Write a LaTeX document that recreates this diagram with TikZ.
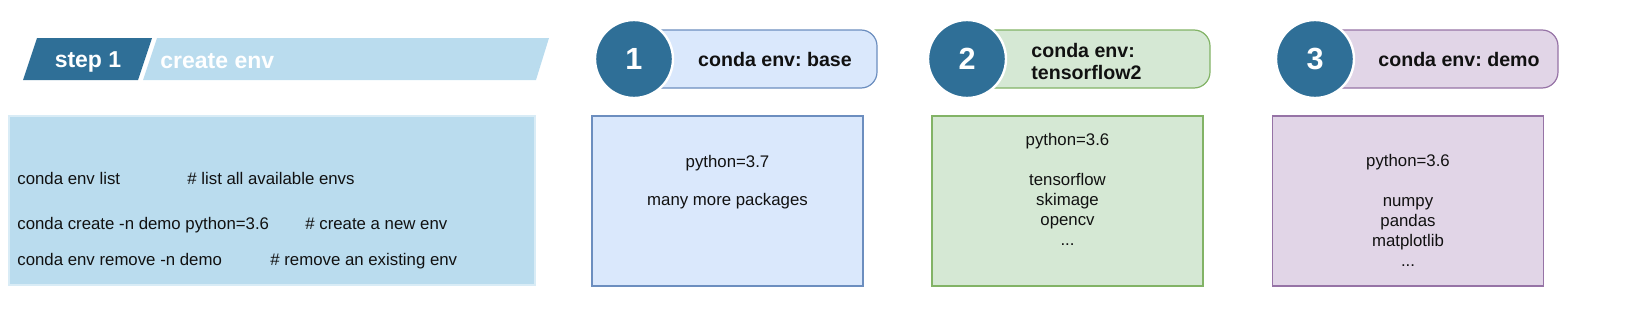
\documentclass[tikz,border=0pt]{standalone}
\usepackage{fontspec}
\setmainfont{Liberation Sans}
\frenchspacing
\definecolor{darkb}{HTML}{2F6F97}
\definecolor{lightb}{HTML}{BADCEE}
\definecolor{bluef}{HTML}{DAE8FC}
\definecolor{blued}{HTML}{6C8EBF}
\definecolor{greenf}{HTML}{D5E8D4}
\definecolor{greend}{HTML}{82B366}
\definecolor{purpf}{HTML}{E1D5E7}
\definecolor{purpd}{HTML}{9673A6}
\definecolor{txt}{HTML}{111111}
\begin{document}
\begin{tikzpicture}[x=0.5pt,y=-0.5pt,
  normtxt/.style={font=\fontsize{8.4pt}{10pt}\selectfont, text=txt, inner sep=0pt},
  titletxt/.style={font=\fontsize{9.8pt}{11pt}\selectfont\bfseries, text=txt, inner sep=0pt},
  envbox/.style={rectangle, minimum width=135.5pt, minimum height=85pt, line width=0.6pt, inner sep=0pt},
  pill/.style={rectangle, rounded corners=8pt, minimum width=121pt, minimum height=29pt, line width=0.6pt, inner sep=0pt},
  numcirc/.style={circle, fill=darkb, draw=white, line width=1.2pt, minimum size=39pt, inner sep=0pt,
    text=white, font=\fontsize{15.3pt}{18pt}\selectfont\bfseries},
  cmdline/.style={normtxt, anchor=west}
]
\useasboundingbox (0,0) rectangle (1634,332);
% header parallelograms
\fill[darkb] (23,80) -- (37,38) -- (152,38) -- (138,80) -- cycle;
\fill[lightb] (143,80) -- (157,38) -- (549,38) -- (536,80) -- cycle;
\node[text=white, font=\fontsize{11.5pt}{13pt}\selectfont\bfseries, inner sep=0pt] (step) at (88,62) {step 1};
\node[text=white, font=\fontsize{11.5pt}{13pt}\selectfont\bfseries, inner sep=0pt, anchor=west] (create) at (160,61) {create env};
% command box
\node[rectangle, fill=lightb, draw=lightb!55!white, line width=0.6pt, minimum width=263pt, minimum height=84.5pt] (cmdbox) at (272,200.5) {};
\node[cmdline] (l1) at (17,178) {\makebox[85pt][l]{conda env list}\# list all available envs};
\node[cmdline] (l2) at (17,225) {\makebox[144pt][l]{conda create -n demo python=3.6}\# create a new env};
\node[cmdline] (l3) at (17,261) {\makebox[126.5pt][l]{conda env remove -n demo}\# remove an existing env};
% env 1
\node[pill, fill=bluef, draw=blued] (p1) at (756,59) {};
\node[numcirc] (c1) at (634,59) {1};
\node[titletxt] (t1) at (775,59) {conda env: base};
\node[envbox, fill=bluef, draw=blued] (b1) at (727.5,201) {};
\node[normtxt, align=center] (x1) at (727.5,182) {python=3.7\\[9pt]many more packages};
% env 2
\node[pill, fill=greenf, draw=greend] (p2) at (1089,59) {};
\node[numcirc] (c2) at (967,59) {2};
\node[titletxt, align=left, anchor=west] (t2) at (1031,61) {conda env:\\tensorflow2};
\node[envbox, fill=greenf, draw=greend] (b2) at (1067.5,201) {};
\node[normtxt, align=center] (x2) at (1067.5,189) {python=3.6\\[10pt]tensorflow\\skimage\\opencv\\...};
% env 3
\node[pill, fill=purpf, draw=purpd] (p3) at (1437,59) {};
\node[numcirc] (c3) at (1315,59) {3};
\node[titletxt] (t3) at (1459,59) {conda env: demo};
\node[envbox, fill=purpf, draw=purpd] (b3) at (1408,201) {};
\node[normtxt, align=center] (x3) at (1408,210) {python=3.6\\[10pt]numpy\\pandas\\matplotlib\\...};
\end{tikzpicture}
\end{document}
